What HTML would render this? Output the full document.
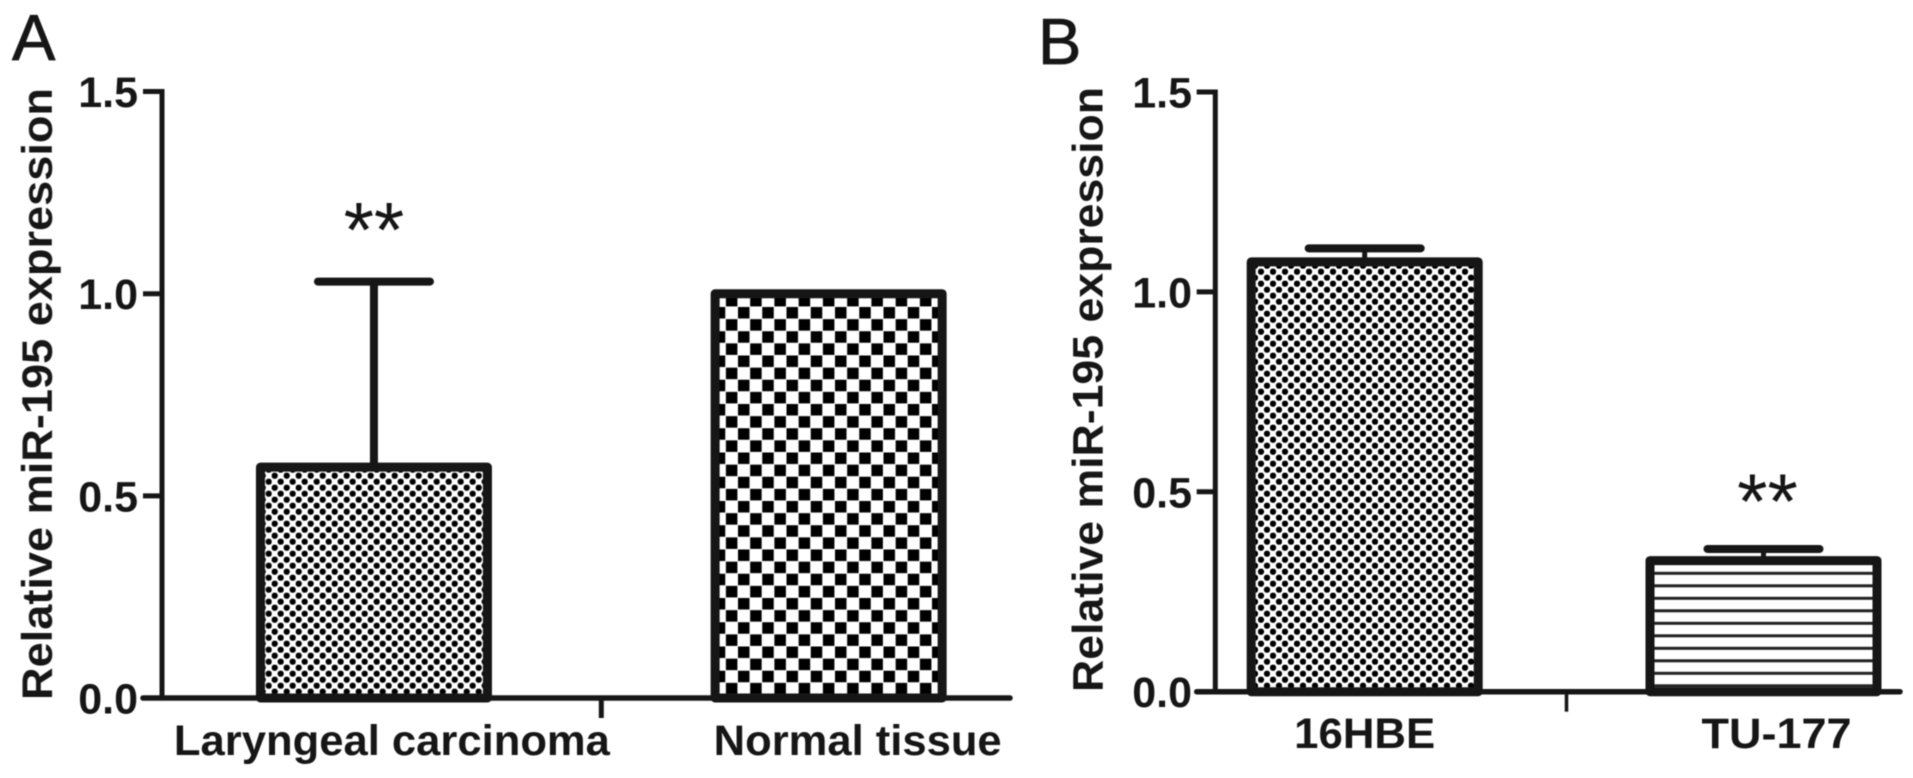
<!DOCTYPE html>
<html lang="en">
<head>
<meta charset="utf-8">
<title>Relative miR-195 expression</title>
<style>
html,body{margin:0;padding:0;background:#fff;width:1913px;height:778px;overflow:hidden}
svg{display:block}
text{font-family:"Liberation Sans",Arial,sans-serif;fill:#161616}
.b{font-weight:bold;font-size:43px}
.p{stroke:#161616;stroke-width:0.8px}
</style>
</head>
<body>
<svg id="figure" xmlns="http://www.w3.org/2000/svg" width="1913" height="778" viewBox="0 0 1913 778">
<defs>
<filter id="soft" filterUnits="userSpaceOnUse" x="0" y="0" width="1913" height="778"><feGaussianBlur stdDeviation="0.6"/></filter>
<pattern id="dotsA" patternUnits="userSpaceOnUse" width="12" height="12" patternTransform="translate(283.7 472.7)">
<circle cx="3" cy="3" r="3.15" fill="#000"/><circle cx="9" cy="9" r="3.15" fill="#000"/>
</pattern>
<pattern id="checksA" patternUnits="userSpaceOnUse" width="24.25" height="24.25" patternTransform="translate(725.6 294.6)">
<rect x="0.3" y="0.3" width="11.5" height="11.5" fill="#000"/><rect x="12.4" y="12.4" width="11.5" height="11.5" fill="#000"/>
</pattern>
<pattern id="dotsB" patternUnits="userSpaceOnUse" width="12" height="12" patternTransform="translate(262 268.7)">
<circle cx="3" cy="3" r="3.15" fill="#000"/><circle cx="9" cy="9" r="3.15" fill="#000"/>
</pattern>
<pattern id="stripesB" patternUnits="userSpaceOnUse" width="12.5" height="12.5" patternTransform="translate(0 571.8)">
<rect x="0" y="0" width="12.5" height="3" fill="#222"/>
</pattern>
</defs>
<rect width="1913" height="778" fill="#fff"/>
<g id="root" filter="url(#soft)">
<text class="p" x="12" y="60" font-size="65">A</text>
<text class="p" x="1038" y="64" font-size="65">B</text>
<text class="b" transform="translate(51.8 700) rotate(-90)" textLength="612" lengthAdjust="spacingAndGlyphs">Relative miR-195 expression</text>
<text class="b" transform="translate(1102.7 692) rotate(-90)" textLength="605" lengthAdjust="spacingAndGlyphs">Relative miR-195 expression</text>
<g id="panelA"></g>
<g id="panelB"></g>
</g>
</svg>
<script>
// Chart A data
const categoriesA = ["Laryngeal carcinoma", "Normal tissue"];
const valuesA = [0.571, 1.0];
const errorTopsA = [1.03, 1.0];
const significanceA = ["**", ""];
const patternsA = ["dotsA", "checksA"];
// Chart B data
const categoriesB = ["16HBE", "TU-177"];
const valuesB = [1.075, 0.328];
const errorTopsB = [1.109, 0.357];
const significanceB = ["", "**"];
const patternsB = ["dotsB", "stripesB"];
// Shared axis
const tickValues = [0, 0.5, 1.0, 1.5];
const tickLabels = ["0.0", "0.5", "1.0", "1.5"];

const SVGNS = "http://www.w3.org/2000/svg";
function make(parent, tag, attrs, txt) {
  const el = document.createElementNS(SVGNS, tag);
  for (const k in attrs) el.setAttribute(k, attrs[k]);
  if (txt !== undefined) el.textContent = txt;
  parent.appendChild(el);
  return el;
}
const INK = "#161616";

function drawPanel(p) {
  const root = document.getElementById(p.id);
  const y = v => p.y0 - v * p.yUnit;
  const x = i => p.x0 + p.step * (i + 0.5);

  p.values.forEach((v, i) => {
    const bar = make(root, "rect", {
      x: x(i) - p.barW / 2, y: y(v), width: p.barW, height: y(0) - y(v),
      fill: "url(#" + p.patterns[i] + ")", stroke: INK, "stroke-width": 9, "stroke-linejoin": "round"
    });
    
    

    if (p.errorTops[i] > v) {
      const stem = make(root, "line", {
        x1: x(i), x2: x(i), y1: y(v), y2: y(p.errorTops[i]), stroke: INK, "stroke-width": p.stemW
      });
      
      
      const cap = make(root, "line", {
        x1: x(i) - p.capHalf, x2: x(i) + p.capHalf, y1: y(p.errorTops[i]), y2: y(p.errorTops[i]),
        stroke: INK, "stroke-width": 8, "stroke-linecap": "round"
      });
      
      
    }

    if (p.significance[i]) {
      const star = make(root, "text", {
        x: x(i) + p.starShift, y: y(p.errorTops[i]) - p.starGap, "text-anchor": "middle", "font-size": 78
      }, p.significance[i]);
      
      
    }

    const lab = make(root, "text", {
      class: "b", x: x(i) + p.labelShift[i], y: p.labelY, "text-anchor": "middle",
      textLength: p.labelW[i], lengthAdjust: "spacingAndGlyphs"
    }, p.categories[i]);
    
    
  });

  const yAxis = make(root, "line", {
    x1: p.axisX, x2: p.axisX, y1: y(tickValues[tickValues.length - 1]) - 2.5, y2: y(0), stroke: INK, "stroke-width": 5
  });
  
  

  const xAxis = make(root, "line", {
    x1: p.tickLeft, x2: p.axisEnd, y1: y(0), y2: y(0), stroke: INK, "stroke-width": 5.5, "stroke-linecap": "round"
  });
  
  

  const xTick = make(root, "line", {
    x1: p.x0 + p.step + p.tickShift, x2: p.x0 + p.step + p.tickShift, y1: y(0), y2: y(0) + 20, stroke: INK, "stroke-width": p.xTickW
  });
  
  

  tickValues.forEach((t, i) => {
    const tick = make(root, "line", {
      x1: p.tickLeft, x2: p.axisX, y1: y(t), y2: y(t), stroke: INK, "stroke-width": 5
    });
    
    
    const lab = make(root, "text", {
      class: "b", x: p.tickLabelX, y: y(t) + p.tickDy, "text-anchor": "end"
    }, tickLabels[i]);
    
    
  });
}

drawPanel({
  id: "panelA", categories: categoriesA, values: valuesA, errorTops: errorTopsA,
  significance: significanceA, patterns: patternsA,
  y0: 698, yUnit: 404.3, x0: 146.6, step: 454.7, barW: 227, stemW: 8, capHalf: 56,
  starShift: 0, starGap: 25, labelShift: [18, 29], labelW: [436, 288], labelY: 755,
  axisX: 162, axisEnd: 1010, tickLeft: 143, tickShift: 0, xTickW: 5, tickLabelX: 138, tickDy: 15.5
});
drawPanel({
  id: "panelB", categories: categoriesB, values: valuesB, errorTops: errorTopsB,
  significance: significanceB, patterns: patternsB,
  y0: 691.7, yUnit: 399.8, x0: 1165.3, step: 398.8, barW: 227, stemW: 5, capHalf: 56,
  starShift: 4, starGap: 21, labelShift: [0, 13], labelW: [141, 150], labelY: 748,
  axisX: 1215.3, axisEnd: 1900, tickLeft: 1196.7, tickShift: 2.4, xTickW: 3.5, tickLabelX: 1192, tickDy: 15.5
});
</script>
</body>
</html>
